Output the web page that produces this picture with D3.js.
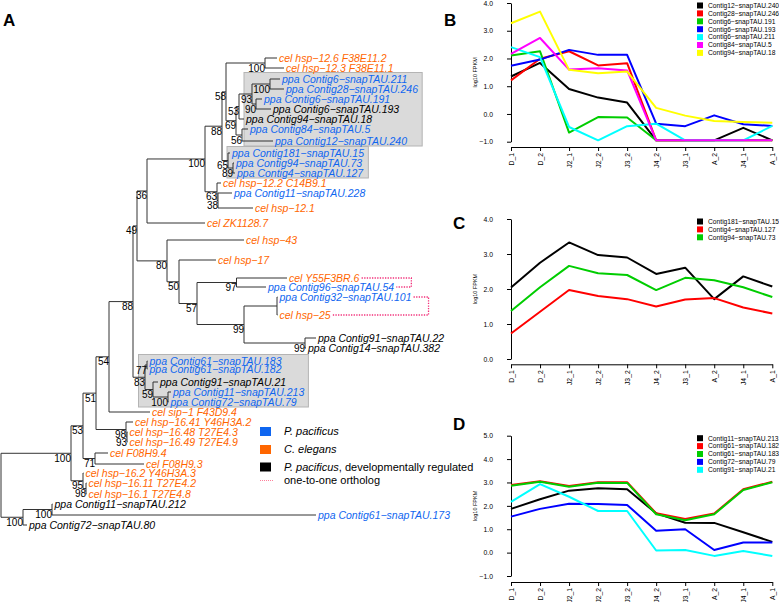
<!DOCTYPE html>
<html><head><meta charset="utf-8">
<script src="https://cdn.jsdelivr.net/npm/d3@7"></script>
<style>
body{margin:0;background:#fff}
svg{display:block}
text{font-family:"Liberation Sans",Arial,Helvetica,sans-serif}
</style></head><body>
<svg id="fig" width="779" height="602"></svg>
<script>
// ================= DATA =================
const stages = ["D_1","D_2","J2_1","J2_2","J3_2","J4_2","J3_1","A_2","J4_1","A_1"];

const ticksB = [-1,0,1,2,3,4];
const namesB = ["Contig12−snapTAU.240","Contig28−snapTAU.246","Contig6−snapTAU.191","Contig6−snapTAU.193","Contig6−snapTAU.211","Contig84−snapTAU.5","Contig94−snapTAU.18"];
const colorsB = ["#000000","#ff0000","#00cd00","#0000ff","#00ffff","#ff00ff","#ffff00"];
const valuesB = [
  [1.35,1.84,0.90,0.59,0.41,-0.95,-0.95,-0.95,-0.50,-0.95],
  [1.21,1.99,2.26,1.75,1.83,-0.95,-0.95,-0.95,-0.95,-0.95],
  [2.11,2.26,-0.67,-0.11,-0.13,-0.95,-0.95,-0.95,-0.95,-0.95],
  [1.74,1.96,2.31,2.13,2.13,-0.35,-0.44,-0.05,-0.37,-0.43],
  [2.41,2.05,-0.47,-0.95,-0.44,-0.35,-0.95,-0.95,-0.95,-0.43],
  [2.17,2.74,1.60,1.65,1.57,-0.95,-0.95,-0.95,-0.95,-0.95],
  [3.27,3.69,1.59,1.47,1.53,0.22,-0.06,-0.25,-0.29,-0.32]
];

const ticksC = [0,1,2,3,4];
const namesC = ["Contig181−snapTAU.15","Contig4−snapTAU.127","Contig94−snapTAU.73"];
const colorsC = ["#000000","#ff0000","#00cd00"];
const valuesC = [
  [2.04,2.75,3.33,2.97,2.90,2.43,2.61,1.71,2.36,2.07],
  [0.73,1.35,1.97,1.80,1.71,1.50,1.70,1.74,1.47,1.30],
  [1.37,2.05,2.66,2.45,2.40,1.97,2.32,2.25,2.05,1.77]
];

const ticksD = [-1,0,1,2,3,4,5];
const namesD = ["Contig11−snapTAU.213","Contig61−snapTAU.182","Contig61−snapTAU.183","Contig72−snapTAU.79","Contig91−snapTAU.21"];
const colorsD = ["#000000","#ff0000","#00cd00","#0000ff","#00ffff"];
const valuesD = [
  [1.87,2.28,2.65,2.75,2.71,1.68,1.28,1.27,0.87,0.46],
  [2.89,3.05,2.85,3.01,3.01,1.68,1.44,1.67,2.71,3.03],
  [2.86,3.03,2.82,2.99,2.98,1.64,1.38,1.64,2.68,3.01],
  [1.54,1.87,2.09,2.08,2.04,0.94,1.00,0.11,0.43,0.43],
  [2.17,2.93,2.39,1.78,1.78,0.09,0.11,-0.14,0.07,-0.14]
];

// tree tips (top to bottom); group: c = C. elegans, p = P. pacificus, r = P. pacificus developmentally regulated
const tipLabels = [
 "cel hsp−12.6 F38E11.2","cel hsp−12.3 F38E11.1","ppa Contig6−snapTAU.211","ppa Contig28−snapTAU.246",
 "ppa Contig6−snapTAU.191","ppa Contig6−snapTAU.193","ppa Contig94−snapTAU.18","ppa Contig84−snapTAU.5",
 "ppa Contig12−snapTAU.240","ppa Contig181−snapTAU.15","ppa Contig94−snapTAU.73","ppa Contig4−snapTAU.127",
 "cel hsp−12.2 C14B9.1","ppa Contig11−snapTAU.228","cel hsp−12.1","cel ZK1128.7","cel hsp−43","cel hsp−17",
 "cel Y55F3BR.6","ppa Contig96−snapTAU.54","ppa Contig32−snapTAU.101","cel hsp−25","ppa Contig91−snapTAU.22",
 "ppa Contig14−snapTAU.382","ppa Contig61−snapTAU.183","ppa Contig61−snapTAU.182","ppa Contig91−snapTAU.21",
 "ppa Contig11−snapTAU.213","ppa Contig72−snapTAU.79","cel sip−1 F43D9.4","cel hsp−16.41 Y46H3A.2",
 "cel hsp−16.48 T27E4.3","cel hsp−16.49 T27E4.9","cel F08H9.4","cel F08H9.3","cel hsp−16.2 Y46H3A.3",
 "cel hsp−16.11 T27E4.2","cel hsp−16.1 T27E4.8","ppa Contig11−snapTAU.212","ppa Contig61−snapTAU.173",
 "ppa Contig72−snapTAU.80"];
const tipGroup = ["c","c","p","p","p","r","r","p","p","p","p","p","c","p","c","c","c","c","c","p","p","c","r","r",
 "p","p","r","p","p","c","c","c","c","c","c","c","c","c","r","p","r"];
const tipRows = [0,1,2.1,3.1,4.1,5.1,6.1,7.1,8.3,9.5,10.5,11.5,12.5,13.5,15,16.5,18.2,20.2,22,22.9,23.9,25.7,28,29,
 30.3,31.1,32.4,33.4,34.4,35.4,36.4,37.4,38.4,39.5,40.6,41.5,42.5,43.6,44.6,45.7,46.7];
// Newick: tip names are indices into tipLabels, internal labels are bootstrap values
const treeNewick = "((((((((((((0:0.12,1:0.19)100:0.39,((((2:0.10,3:0.14)100:0.18,(4:0.06,5:0.15)90:0.04)93:0.13,6:0.05)53:0.03,(7:0.06,8:0.31)56:0.06)69:0.10)58:0.04,(9:0.02,(10:0.01,11:0.02)89:0.05)65:0.06)88:0.17,(12:0.04,(13:0.14,14:0.35)38:0.01)63:0.12)100:0.58,15:0.58)36:0.10,(16:0.77,(17:0.37,((18:0.505,19:0.295)97:0.395,((20:0.005,21:0.005):0.33,(22:0.11,23:0.01)99:0.61)99:0.47)57:0.18)50:0.12)80:0.30)49:0.04,((24:0.005,25:0.005)77:0.02,(26:0.05,(27:0.03,28:0.005)100:0.15)59:0.08)83:0.12)88:0.24,29:0.41)54:0.13,(30:0.07,(31:0.005,32:0.005)93:0.01)98:0.30)51:0.13,(33:0.13,34:0.49)71:0.12)53:0.12,(35:0.005,(36:0.005,37:0.005)98:0.03)95:0.12)100:0.70,((38:0.005,39:2.64)100:0.29,40:0.04)100:0.22);";
const highlightRanges = [[2,8],[9,11],[24,28]];
const orthologPairs = [[18,19],[20,21]];
const legendLabels = [["P. pacificus",""],["C. elegans",""],["P. pacificus",", developmentally regulated"],["","one-to-one ortholog"]];
const legendKinds = ["p","c","r","ortholog"];

// ================= DRAWING =================
const svg = d3.select("#fig");
const groupColor = {c:"#ff6600", p:"#0f66f0", r:"#000000"};
const orthoColor = "#f2307a";

function parseNewick(s){
  let i = 0;
  function node(){
    const n = {name:"", length:0};
    if (s[i] === "("){
      i++; n.children = [node()];
      while (s[i] === ","){ i++; n.children.push(node()); }
      i++; // ')'
    }
    let nm = "";
    while (i < s.length && !",():;".includes(s[i])) nm += s[i++];
    n.name = nm;
    if (s[i] === ":"){
      i++; let num = "";
      while (i < s.length && !",();".includes(s[i])) num += s[i++];
      n.length = +num;
    }
    return n;
  }
  return node();
}

const tx = d3.scaleLinear().domain([0, 3.15]).range([1, 316]);
const ty = d3.scaleLinear().domain([0, 46.7]).range([58, 525]);

const root = d3.hierarchy(parseNewick(treeNewick), d => d.children);
root.eachBefore(d => { d.len = d.parent ? d.parent.len + d.data.length : 0; d.px = tx(d.len); });
root.eachAfter(d => {
  if (d.children) d.py = (d.children[0].py + d.children[d.children.length-1].py) / 2;
  else d.py = ty(tipRows[+d.data.name]);
});

const gBox = svg.append("g");
const gBr = svg.append("g").attr("fill","none").attr("stroke","#333").attr("stroke-width",1);
const gTip = svg.append("g").attr("font-size","10.5px").attr("font-style","italic");
const gBoot = svg.append("g").attr("font-size","10px").attr("fill","#000");
const gOrth = svg.append("g");

// branches
root.descendants().forEach(d => {
  if (d.parent) gBr.append("path").attr("d", `M${d.parent.px},${d.py}H${d.px}`);
  if (d.children) gBr.append("path").attr("d", `M${d.px},${d.children[0].py}V${d.children[d.children.length-1].py}`);
});

// tip labels
const tipNodes = {};
root.leaves().forEach(d => {
  const k = +d.data.name;
  const t = gTip.append("text")
    .attr("x", d.px + 2).attr("y", d.py).attr("dy","0.35em")
    .attr("fill", groupColor[tipGroup[k]]).text(tipLabels[k]);
  tipNodes[k] = {node:d, text:t};
});

// bootstrap labels
root.descendants().filter(d => d.children && d.data.name).forEach(d => {
  gBoot.append("text").attr("x", d.px).attr("y", d.py + 5).attr("dy","0.35em")
    .attr("text-anchor","end").text(d.data.name);
});

// highlight boxes
const boxPadL = [1, 4, 10];
highlightRanges.forEach((r, gi) => {
  let x0 = Infinity, x1 = -Infinity;
  for (let k = r[0]; k <= r[1]; k++){
    const b = tipNodes[k].text.node().getBBox();
    x0 = Math.min(x0, b.x); x1 = Math.max(x1, b.x + b.width);
  }
  const y0 = tipNodes[r[0]].node.py - 6.5, y1 = tipNodes[r[1]].node.py + 5;
  gBox.append("rect").attr("x", x0 - boxPadL[gi]).attr("y", y0)
    .attr("width", x1 - x0 + boxPadL[gi] + 4).attr("height", y1 - y0)
    .attr("fill","#dadada").attr("stroke","#b4b4b4").attr("stroke-width",1);
});

// ortholog brackets
orthologPairs.forEach(([a, b]) => {
  const ba = tipNodes[a].text.node().getBBox(), bb = tipNodes[b].text.node().getBBox();
  const ea = ba.x + ba.width + 2, eb = bb.x + bb.width + 2;
  const bx = Math.max(ea, eb) + 15;
  gOrth.append("path")
    .attr("d", `M${ea},${tipNodes[a].node.py}H${bx}V${tipNodes[b].node.py}H${eb}`)
    .attr("fill","none").attr("stroke", orthoColor).attr("stroke-width",1.3)
    .attr("stroke-dasharray","1.3,1.3");
});

// tree legend
const lg = svg.append("g").attr("font-size","11px");
const legY = d3.scalePoint().domain(d3.range(legendLabels.length)).range([431.5, 481]);
const legYs = [431.5, 449.5, 467, 480.5];
legendLabels.forEach((lab, i) => {
  const y = legYs[i];
  if (legendKinds[i] === "ortholog") {
    lg.append("line").attr("x1",260).attr("x2",273).attr("y1",y).attr("y2",y)
      .attr("stroke","#ff7f9a").attr("stroke-width",1).attr("stroke-dasharray","1,1");
  } else {
    lg.append("rect").attr("x",260).attr("y",y-4.5).attr("width",11).attr("height",9)
      .attr("fill", groupColor[legendKinds[i]]);
  }
  const t = lg.append("text").attr("x",284).attr("y",y).attr("dy","0.35em").attr("fill","#000");
  if (lab[0]) t.append("tspan").attr("font-style","italic").text(lab[0]);
  if (lab[1]) t.append("tspan").text(lab[1]);
});

// panel letters
const letters = [["A",3,26],["B",444,26],["C",453,228.5],["D",453,430]];
letters.forEach(([l,x,y]) => svg.append("text").attr("x",x).attr("y",y)
  .attr("font-size","17px").attr("font-weight","bold").text(l));

// ================= LINE CHARTS =================
const xS = d3.scalePoint().domain(stages).range([511, 772.3]);

function drawChart(names, colors, values, ticks, yRange, axisY){
  const g = svg.append("g");
  const y = d3.scaleLinear().domain([ticks[0], ticks[ticks.length-1]]).range(yRange);
  const ya = g.append("g").attr("transform","translate(511,0)")
    .call(d3.axisLeft(y).tickValues(ticks).tickSize(4).tickSizeOuter(0).tickPadding(14));
  const xa = g.append("g").attr("transform",`translate(0,${axisY})`)
    .call(d3.axisBottom(xS).tickSize(4).tickSizeOuter(0));
  xa.selectAll(".tick text").attr("transform","rotate(-90)").attr("text-anchor","end")
    .attr("x",-6).attr("y",0).attr("dy","0.35em");
  [ya, xa].forEach(a => {
    a.attr("font-family", null).attr("font-size", null);
    a.selectAll("text").attr("font-size","6.8px").attr("fill","#000");
    a.selectAll("path,line").attr("stroke","#000");
  });
  const line = d3.line().x((d,i) => xS(stages[i])).y(d => y(d));
  values.forEach((v, i) => {
    g.append("path").attr("d", line(v)).attr("fill","none")
      .attr("stroke", colors[i]).attr("stroke-width",2).attr("stroke-linejoin","round");
  });
  // y label
  const mid = (yRange[0] + yRange[1]) / 2;
  g.append("text").attr("transform",`translate(477,${mid}) rotate(-90)`)
    .attr("text-anchor","middle").attr("font-size","5.5px").text("log10 FPKM");
  // legend
  const top = yRange[1] + 2.5;
  names.forEach((n, i) => {
    const yy = top + i * 7.9;
    g.append("rect").attr("x",697).attr("y",yy-3).attr("width",6).attr("height",6).attr("fill",colors[i]);
    g.append("text").attr("x",708).attr("y",yy).attr("dy","0.35em").attr("font-size","6.7px").text(n);
  });
}

drawChart(namesB, colorsB, valuesB, ticksB, [141.7, 3], 147);
drawChart(namesC, colorsC, valuesC, ticksC, [359, 219], 364.3);
drawChart(namesD, colorsD, valuesD, ticksD, [576, 435.7], 582);
</script></body></html>
